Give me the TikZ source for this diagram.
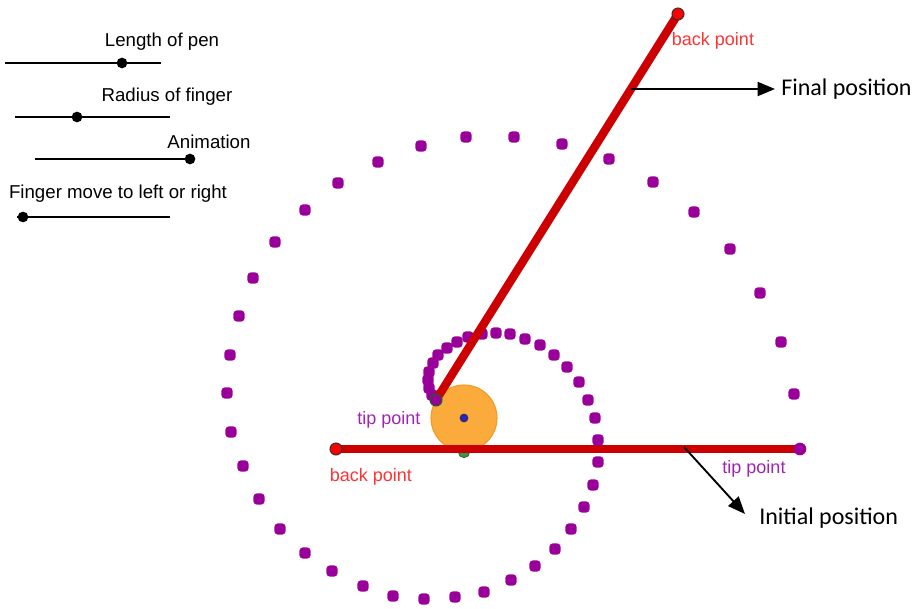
\documentclass[tikz,border=0pt]{standalone}
\usepackage{fontspec}
\setmainfont{Liberation Sans}
\newfontfamily\calfont{Carlito}
\usetikzlibrary{arrows.meta,calc}
\definecolor{penred}{HTML}{CC0000}
\definecolor{ptred}{HTML}{FF0000}
\definecolor{txtred}{HTML}{FF3333}
\definecolor{trace}{HTML}{990099}
\definecolor{txtpurple}{HTML}{A024B4}
\definecolor{fingfill}{HTML}{FBAA3C}
\definecolor{fingdraw}{HTML}{F39A22}
\definecolor{ctrblue}{HTML}{2424C8}
\definecolor{ptgreen}{HTML}{2E9E3E}
\tikzset{
  slidertext/.style={font=\fontsize{14}{16}\selectfont, text=black, inner sep=0pt},
  sliderline/.style={line width=1.6pt, black},
  sliderdot/.style={circle, fill=black, minimum size=8pt, inner sep=0pt},
  tracedot/.style={rectangle, rounded corners=2.4pt, fill=trace, minimum size=8.3pt, inner sep=0pt},
  pen/.style={line width=6.3pt, penred},
  backpt/.style={circle, fill=ptred, draw=black!80, line width=0.8pt, minimum size=9pt, inner sep=0pt},
  redlabel/.style={font=\fontsize{13.5}{15}\selectfont, text=txtred, inner sep=0pt},
  purplelabel/.style={font=\fontsize{13.5}{15}\selectfont, text=txtpurple, inner sep=0pt},
  bigtext/.style={font=\calfont\fontsize{18}{20}\selectfont, text=black, inner sep=0pt},
  pointer/.style={line width=1.4pt, black, -{Triangle[length=13pt,width=10.5pt]}},
}
\begin{document}
\begin{tikzpicture}[x=0.75pt,y=-0.75pt]
\useasboundingbox (0,0) rectangle (921,609);
% sliders
\node[slidertext] (s1t) at (162,42) {Length of pen};
\coordinate (s1a) at (5,63); \coordinate (s1b) at (161,63);
\draw[sliderline] (s1a) -- (s1b);
\node[sliderdot] (s1d) at (122,63) {};
\node[slidertext] (s2t) at (167,97) {Radius of finger};
\coordinate (s2a) at (15,117); \coordinate (s2b) at (170,117);
\draw[sliderline] (s2a) -- (s2b);
\node[sliderdot] (s2d) at (77,117) {};
\node[slidertext] (s3t) at (209,142) {Animation};
\coordinate (s3a) at (35,159); \coordinate (s3b) at (190,159);
\draw[sliderline] (s3a) -- (s3b);
\node[sliderdot] (s3d) at (190,159) {};
\node[slidertext] (s4t) at (118,194) {Finger move to left or right};
\coordinate (s4a) at (17,217); \coordinate (s4b) at (170,217);
\draw[sliderline] (s4a) -- (s4b);
\node[sliderdot] (s4d) at (23,217) {};
% finger
\node[circle, fill=fingfill, draw=fingdraw, line width=0.8pt, minimum size=49.5pt, inner sep=0pt] (finger) at (464,418) {};
\node[circle, fill=ptgreen, draw=black!70, line width=0.6pt, minimum size=8.5pt, inner sep=0pt] (contact) at (464,452) {};
% initial pen
\coordinate (backI) at (336,449);
\coordinate (tipI) at (800,449);
\draw[pen] (backI) -- (tipI);
% trace dots
\foreach \px/\py [count=\i] in {794/394,781/342,760/293,730/249,694/212,653/182,609/159,562/144,514/137,466/137,421/146,378/162,338/183,305/210,275/242,253/278,239/316,230/355,227/393,231/432,243/466,259/499,280/529,305/553,332/571,363/586,393/596,424/599,455/597,484/592,511/580,535/566,555/549,571/529,584/507,593/485,598/462,598/440,595/418,588/400,579/382,567/367,554/355,540/345,525/339,510/334,496/333,482/334,468/337,457/342,447/348,438/355,433/363,429/372,428/380,429/388,432/395}
  \node[tracedot] (d\i) at (\px,\py) {};
% final pen
\coordinate (tipF) at (436,400);
\coordinate (backF) at (678,14);
\draw[pen] (tipF) -- (backF);
% points
\node[backpt] (bpI) at (backI) {};
\node[backpt] (bpF) at (backF) {};
\node[circle, fill=trace, draw=ptgreen!60!black, line width=0.8pt, minimum size=9pt, inner sep=0pt] (tpF) at (tipF) {};
\node[circle, fill=trace, minimum size=9.5pt, inner sep=0pt] (tpI) at (tipI) {};
\node[circle, fill=ctrblue, draw=black!80, line width=0.5pt, minimum size=6pt, inner sep=0pt] (center) at (finger.center) {};
% labels
\node[purplelabel] (lt1) at (389,420) {tip point};
\node[redlabel] (lb1) at (371,477) {back point};
\node[purplelabel] (lt2) at (754,469) {tip point};
\node[redlabel] (lb2) at (713,41) {back point};
% pointers
\coordinate (fstart) at ($(tipF)!0.8057!(backF)$);
\node[bigtext, anchor=west] (final) at (781,89) {Final position};
\coordinate (fend) at (775,89);
\draw[pointer] (fstart) -- (fend);
\coordinate (istart) at (684,447);
\node[bigtext, anchor=west] (initial) at (759,518) {Initial position};
\coordinate (iend) at (745,514);
\draw[pointer] (istart) -- (iend);
\end{tikzpicture}
\end{document}
